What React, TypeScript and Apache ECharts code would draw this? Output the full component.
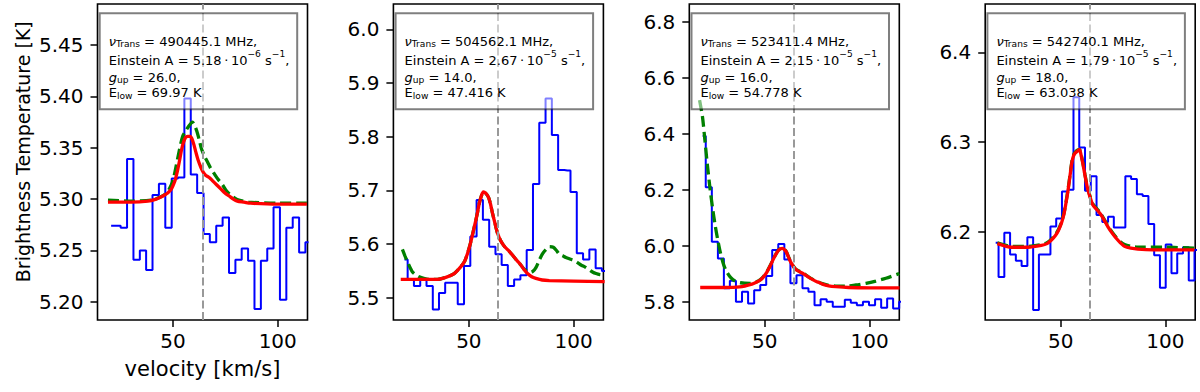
import { useEffect, useRef } from 'react';
import * as echarts from 'echarts';

// ---------------- data ----------------
const xTicks = [50, 100];
const vLine = 64;

// panel 1
const p1Vel = [20.5, 23.5, 26.6, 29.6, 32.7, 35.7, 38.7, 41.8, 44.8, 47.9, 50.9, 53.9, 57.0, 60.0, 63.1, 66.1, 69.1, 72.2, 75.2, 78.3, 81.3, 84.3, 87.4, 90.4, 93.5, 96.5, 99.5, 102.6, 105.6, 108.7, 111.7, 114.7];
const p1Obs = [5.274, 5.274, 5.272, 5.339, 5.241, 5.250, 5.231, 5.304, 5.315, 5.272, 5.320, 5.321, 5.398, 5.324, 5.306, 5.266, 5.258, 5.274, 5.282, 5.228, 5.241, 5.252, 5.240, 5.193, 5.240, 5.252, 5.292, 5.202, 5.272, 5.282, 5.248, 5.258];
const p1RedX = [19.0, 30.0, 38.0, 42.0, 44.3, 46.0, 47.5, 49.0, 50.0, 51.0, 52.2, 53.2, 54.1, 55.0, 56.0, 57.0, 58.3, 59.0, 60.0, 60.9, 62.0, 63.3, 64.5, 65.7, 67.3, 68.8, 70.8, 72.8, 74.8, 76.8, 78.8, 80.7, 84.0, 87.0, 100.0, 113.9];
const p1RedY = [5.297, 5.297, 5.298, 5.300, 5.302, 5.304, 5.306, 5.309, 5.313, 5.318, 5.328, 5.338, 5.348, 5.355, 5.360, 5.361, 5.361, 5.359, 5.353, 5.346, 5.338, 5.331, 5.326, 5.323, 5.321, 5.318, 5.314, 5.310, 5.306, 5.303, 5.300, 5.298, 5.297, 5.296, 5.295, 5.295];
const p1GreenX = [19.0, 30.0, 40.0, 44.0, 46.5, 48.3, 50.0, 51.4, 53.0, 54.6, 56.0, 57.5, 59.3, 60.3, 61.4, 62.5, 63.6, 65.0, 66.5, 68.0, 69.6, 71.6, 73.6, 75.5, 77.5, 79.5, 81.5, 86.0, 100.0, 113.9];
const p1GreenY = [5.299, 5.298, 5.299, 5.302, 5.305, 5.310, 5.318, 5.331, 5.347, 5.361, 5.366, 5.371, 5.375, 5.372, 5.366, 5.358, 5.349, 5.342, 5.336, 5.330, 5.325, 5.319, 5.314, 5.308, 5.304, 5.301, 5.299, 5.297, 5.296, 5.296];
const p1YTicks = [5.2, 5.25, 5.3, 5.35, 5.4, 5.45];

// panel 2
const p2Vel = [19.3, 22.3, 25.3, 28.3, 31.3, 34.3, 37.2, 40.2, 43.2, 46.2, 49.2, 52.2, 55.2, 58.2, 61.2, 64.2, 67.1, 70.1, 73.1, 76.1, 79.1, 82.1, 85.1, 88.1, 91.1, 94.1, 97.0, 100.0, 103.0, 106.0, 109.0, 112.0, 115.0];
const p2Obs = [5.571, 5.534, 5.522, 5.534, 5.522, 5.478, 5.509, 5.528, 5.528, 5.488, 5.559, 5.614, 5.682, 5.645, 5.595, 5.581, 5.561, 5.522, 5.534, 5.542, 5.589, 5.712, 5.826, 5.871, 5.803, 5.738, 5.737, 5.697, 5.583, 5.571, 5.590, 5.555, 5.550];
const p2RedX = [17.5, 25.0, 34.2, 39.0, 43.0, 46.2, 48.0, 49.4, 51.0, 52.6, 54.0, 55.0, 56.0, 56.9, 58.0, 59.4, 60.3, 61.3, 62.5, 63.7, 65.2, 66.9, 68.9, 70.9, 72.8, 74.8, 76.4, 78.0, 80.0, 82.0, 85.0, 88.4, 100.0, 114.8];
const p2RedY = [5.534, 5.534, 5.534, 5.538, 5.545, 5.558, 5.568, 5.583, 5.605, 5.632, 5.656, 5.676, 5.690, 5.697, 5.695, 5.687, 5.675, 5.657, 5.638, 5.620, 5.606, 5.596, 5.588, 5.579, 5.570, 5.561, 5.552, 5.545, 5.539, 5.536, 5.533, 5.532, 5.531, 5.530];
const p2GreenX = [18.3, 19.5, 20.7, 22.0, 23.1, 24.5, 26.3, 28.5, 31.1, 35.0, 39.0, 43.0, 46.2, 48.0, 49.4, 51.0, 52.6, 54.0, 55.0, 56.0, 56.9, 58.0, 59.4, 60.3, 61.3, 62.5, 63.7, 65.2, 66.9, 68.9, 70.9, 72.8, 74.8, 76.4, 77.5, 79.0, 80.5, 82.0, 83.6, 85.2, 86.8, 88.5, 90.3, 91.8, 93.2, 94.8, 96.3, 98.3, 100.4, 102.0, 103.5, 105.5, 107.5, 109.0, 110.7, 112.5, 114.8];
const p2GreenY = [5.590, 5.578, 5.567, 5.556, 5.548, 5.543, 5.539, 5.536, 5.534, 5.534, 5.538, 5.545, 5.558, 5.568, 5.583, 5.605, 5.632, 5.656, 5.676, 5.690, 5.697, 5.695, 5.687, 5.675, 5.657, 5.638, 5.620, 5.606, 5.596, 5.588, 5.579, 5.570, 5.561, 5.553, 5.550, 5.547, 5.549, 5.556, 5.570, 5.582, 5.590, 5.595, 5.594, 5.588, 5.581, 5.578, 5.575, 5.572, 5.569, 5.565, 5.561, 5.557, 5.552, 5.548, 5.545, 5.543, 5.542];
const p2YTicks = [5.5, 5.6, 5.7, 5.8, 5.9, 6.0];

// panel 3
const p3Vel = [20.4, 23.3, 26.2, 29.1, 31.9, 34.8, 37.7, 40.6, 43.5, 46.4, 49.3, 52.1, 55.0, 57.9, 60.8, 63.7, 66.6, 69.4, 72.3, 75.2, 78.1, 81.0, 83.9, 86.8, 89.6, 92.5, 95.4, 98.3, 101.2, 104.1, 107.0, 109.8, 112.7, 115.6];
const p3Obs = [6.392, 6.209, 6.014, 5.955, 5.848, 5.875, 5.800, 5.836, 5.794, 5.841, 5.860, 5.892, 5.985, 6.006, 5.951, 5.866, 5.895, 5.848, 5.836, 5.788, 5.809, 5.800, 5.782, 5.782, 5.807, 5.797, 5.788, 5.800, 5.788, 5.809, 5.779, 5.812, 5.776, 5.800];
const p3RedX = [19.2, 30.0, 38.0, 43.9, 46.0, 47.9, 49.5, 51.1, 52.7, 54.3, 55.5, 56.7, 58.3, 59.2, 60.2, 61.2, 62.3, 63.5, 64.7, 66.7, 68.7, 70.7, 72.7, 75.1, 77.5, 80.5, 83.9, 90.0, 100.0, 114.3];
const p3RedY = [5.851, 5.851, 5.853, 5.863, 5.870, 5.878, 5.890, 5.907, 5.930, 5.955, 5.972, 5.985, 5.991, 5.988, 5.979, 5.962, 5.943, 5.928, 5.916, 5.907, 5.899, 5.889, 5.880, 5.871, 5.863, 5.857, 5.854, 5.851, 5.850, 5.850];
const p3GreenX = [18.9, 20.3, 21.4, 22.6, 23.8, 25.0, 26.3, 27.6, 29.0, 30.5, 32.0, 33.8, 35.8, 38.4, 43.1, 46.0, 47.9, 49.5, 51.1, 52.7, 54.3, 55.5, 56.7, 58.3, 59.2, 60.2, 61.2, 62.3, 63.5, 64.7, 66.7, 68.7, 70.7, 72.7, 75.1, 77.5, 80.5, 83.9, 88.7, 93.5, 98.3, 103.0, 107.8, 114.2];
const p3GreenY = [6.520, 6.460, 6.380, 6.290, 6.210, 6.140, 6.075, 6.020, 5.970, 5.930, 5.905, 5.886, 5.874, 5.868, 5.866, 5.871, 5.879, 5.891, 5.908, 5.931, 5.956, 5.973, 5.986, 5.992, 5.989, 5.980, 5.963, 5.944, 5.929, 5.917, 5.908, 5.900, 5.890, 5.881, 5.872, 5.865, 5.859, 5.856, 5.856, 5.860, 5.866, 5.874, 5.884, 5.901];
const p3YTicks = [5.8, 6.0, 6.2, 6.4, 6.6, 6.8];

// panel 4
const p4Vel = [19.0, 21.75, 24.5, 27.25, 30.0, 32.75, 35.5, 38.25, 41.0, 43.75, 46.5, 49.25, 52.0, 54.75, 57.5, 60.25, 63.0, 65.75, 68.5, 71.25, 74.0, 76.75, 79.5, 82.25, 85.0, 87.75, 90.5, 93.25, 96.0, 98.75, 101.5, 104.25, 107.0, 109.75, 112.5, 115.25];
const p4Obs = [6.188, 6.150, 6.199, 6.175, 6.168, 6.162, 6.194, 6.113, 6.175, 6.175, 6.206, 6.215, 6.245, 6.247, 6.350, 6.294, 6.246, 6.262, 6.219, 6.211, 6.217, 6.205, 6.205, 6.262, 6.259, 6.242, 6.240, 6.209, 6.174, 6.138, 6.186, 6.154, 6.176, 6.183, 6.146, 6.180];
const p4RedX = [19.8, 26.5, 34.4, 40.8, 43.5, 45.6, 47.5, 49.0, 50.4, 51.6, 52.6, 53.5, 54.5, 55.4, 56.2, 57.0, 58.0, 59.0, 59.8, 60.6, 61.6, 62.7, 64.0, 65.4, 67.2, 69.0, 70.8, 72.5, 74.5, 76.5, 78.5, 80.5, 83.5, 86.8, 100.0, 113.8];
const p4RedY = [6.187, 6.183, 6.183, 6.185, 6.187, 6.191, 6.196, 6.202, 6.210, 6.220, 6.233, 6.246, 6.263, 6.278, 6.285, 6.288, 6.290, 6.292, 6.285, 6.276, 6.263, 6.250, 6.239, 6.230, 6.225, 6.220, 6.213, 6.206, 6.199, 6.193, 6.188, 6.184, 6.182, 6.181, 6.180, 6.180];
const p4GreenX = [19.8, 26.5, 34.4, 40.8, 43.5, 45.6, 47.5, 49.0, 50.4, 51.6, 52.6, 53.5, 54.5, 55.4, 56.2, 57.0, 58.0, 59.0, 59.8, 60.6, 61.6, 62.7, 64.0, 65.4, 67.2, 69.0, 70.8, 72.5, 74.5, 76.5, 78.5, 80.5, 83.5, 86.8, 100.0, 113.8];
const p4GreenY = [6.188, 6.184, 6.184, 6.186, 6.188, 6.192, 6.197, 6.203, 6.211, 6.221, 6.234, 6.247, 6.264, 6.279, 6.286, 6.289, 6.291, 6.292, 6.286, 6.277, 6.264, 6.251, 6.240, 6.231, 6.226, 6.221, 6.214, 6.207, 6.200, 6.194, 6.189, 6.186, 6.184, 6.183, 6.183, 6.182];
const p4YTicks = [6.2, 6.3, 6.4];

// line parameters shown in the boxes
const transFreq = ['490445.1', '504562.1', '523411.4', '542740.1'];
const einsteinA = ['5.18', '2.67', '2.15', '1.79'];
const einsteinExp = ['6', '5', '5', '5'];
const gUp = ['26.0', '14.0', '16.0', '18.0'];
const eLow = ['69.97', '47.416', '54.778', '63.038'];

// ---------------- layout ----------------
const FONT = 'DejaVu Sans';
const GRID_LEFT = [97.5, 393.4, 689.3, 985.2];
const GRID_TOP = 4;
const GRID_W = 210;
const GRID_H = 316;
const X_MIN = 14;
const X_MAX = 114.2;
const Y_RANGES = [
  [5.1823, 5.4899],
  [5.4585, 6.0471],
  [5.735, 6.8632],
  [6.102, 6.4538],
];
const Y_DEC = [2, 1, 1, 1];

const panels = [
  { vel: p1Vel, obs: p1Obs, rx: p1RedX, ry: p1RedY, gx: p1GreenX, gy: p1GreenY, ticks: p1YTicks },
  { vel: p2Vel, obs: p2Obs, rx: p2RedX, ry: p2RedY, gx: p2GreenX, gy: p2GreenY, ticks: p2YTicks },
  { vel: p3Vel, obs: p3Obs, rx: p3RedX, ry: p3RedY, gx: p3GreenX, gy: p3GreenY, ticks: p3YTicks },
  { vel: p4Vel, obs: p4Obs, rx: p4RedX, ry: p4RedY, gx: p4GreenX, gy: p4GreenY, ticks: p4YTicks },
];

const zip = (xs: number[], ys: number[]) => xs.map((x, i) => [x, ys[i]]);

const rich = {
  i: { fontFamily: FONT, fontSize: 13, fontStyle: 'italic', fill: '#000', lineHeight: 18 },
  sub: { fontFamily: FONT, fontSize: 9.1, fill: '#000', height: 12, lineHeight: 12, verticalAlign: 'bottom' },
  sup: { fontFamily: FONT, fontSize: 9.1, fill: '#000', height: 5.4, lineHeight: 5.4, verticalAlign: 'top' },
};

function boxElements(i: number) {
  const bx = GRID_LEFT[i] + 2.2;
  const tx = bx + 9;
  const lines = [
    `{i|ν}{sub|Trans} = ${transFreq[i]} MHz,`,
    `Einstein A = ${einsteinA[i]}\u2009·\u200910{sup|−${einsteinExp[i]}} s{sup|−1},`,
    `{i|g}{sub|up} = ${gUp[i]},`,
    `E{sub|low} = ${eLow[i]} K`,
  ];
  const centers = [41.2, 60.5, 77.2, 92.8];
  const els: any[] = [
    {
      type: 'rect',
      z: 100,
      shape: { x: bx, y: 13.3, width: 197.5, height: 96 },
      style: { fill: 'rgba(255,255,255,0.5)', stroke: 'rgba(0,0,0,0.5)', lineWidth: 2 },
    },
  ];
  lines.forEach((t, k) => {
    els.push({
      type: 'text',
      z: 101,
      x: tx,
      y: centers[k],
      style: {
        text: t,
        fontFamily: FONT,
        fontSize: 13,
        lineHeight: 18,
        fill: '#000',
        align: 'left',
        verticalAlign: 'middle',
        textAlign: 'left',
        textVerticalAlign: 'middle',
        rich,
      },
    });
  });
  return els;
}

function buildOption() {
  const grid: any[] = [];
  const xAxis: any[] = [];
  const yAxis: any[] = [];
  const series: any[] = [];
  const graphic: any[] = [];

  panels.forEach((p, i) => {
    grid.push({
      left: GRID_LEFT[i],
      top: GRID_TOP,
      width: GRID_W,
      height: GRID_H,
      show: true,
      borderColor: '#000',
      borderWidth: 1.6,
      backgroundColor: 'transparent',
      containLabel: false,
    });
    xAxis.push({
      type: 'value',
      gridIndex: i,
      min: X_MIN,
      max: X_MAX,
      axisLine: { show: false },
      splitLine: { show: false },
      axisTick: { show: true, inside: false, length: 7, lineStyle: { color: '#000', width: 1.5 }, customValues: xTicks },
      axisLabel: { customValues: xTicks, margin: 11, fontSize: 20, fontFamily: FONT, color: '#000' },
    });
    yAxis.push({
      type: 'value',
      gridIndex: i,
      min: Y_RANGES[i][0],
      max: Y_RANGES[i][1],
      axisLine: { show: false },
      splitLine: { show: false },
      axisTick: { show: true, inside: false, length: 7, lineStyle: { color: '#000', width: 1.5 }, customValues: p.ticks },
      axisLabel: {
        customValues: p.ticks,
        margin: 14,
        fontSize: 20,
        fontFamily: FONT,
        color: '#000',
        formatter: (v: number) => Number(v).toFixed(Y_DEC[i]),
      },
    });
    series.push({
      type: 'line',
      xAxisIndex: i,
      yAxisIndex: i,
      data: zip(p.vel, p.obs),
      step: 'middle',
      symbol: 'none',
      lineStyle: { color: '#0000ff', width: 2 },
      z: 2,
      markLine: {
        silent: true,
        symbol: ['none', 'none'],
        label: { show: false },
        lineStyle: { color: '#999999', width: 2, type: [8, 3.5] },
        data: [{ xAxis: vLine }],
      },
    });
    series.push({
      type: 'line',
      xAxisIndex: i,
      yAxisIndex: i,
      data: zip(p.gx, p.gy),
      smooth: 0.25,
      symbol: 'none',
      lineStyle: { color: '#008000', width: 3.3, type: [11, 5] },
      z: 3,
    });
    series.push({
      type: 'line',
      xAxisIndex: i,
      yAxisIndex: i,
      data: zip(p.rx, p.ry),
      smooth: 0.25,
      symbol: 'none',
      lineStyle: { color: '#ff0000', width: 3.3 },
      z: 4,
    });
    graphic.push(...boxElements(i));
  });

  graphic.push({
    type: 'text',
    z: 100,
    x: 22.5,
    y: 151.7,
    rotation: Math.PI / 2,
    style: {
      text: 'Brightness Temperature [K]',
      fontFamily: FONT,
      fontSize: 19,
      fill: '#000',
      align: 'center',
      verticalAlign: 'middle',
      textAlign: 'center',
      textVerticalAlign: 'middle',
    },
  });
  graphic.push({
    type: 'text',
    z: 100,
    x: 202.5,
    y: 369,
    style: {
      text: 'velocity [km/s]',
      fontFamily: FONT,
      fontSize: 21,
      fill: '#000',
      align: 'center',
      verticalAlign: 'middle',
      textAlign: 'center',
      textVerticalAlign: 'middle',
    },
  });

  return {
    animation: false,
    backgroundColor: '#ffffff',
    grid,
    xAxis,
    yAxis,
    series,
    graphic,
  };
}

export default function App() {
  const ref = useRef<HTMLDivElement>(null);
  useEffect(() => {
    document.body.style.margin = '0';
    const chart = echarts.init(ref.current as HTMLDivElement, null, { renderer: 'svg' });
    chart.setOption(buildOption() as any);
    return () => chart.dispose();
  }, []);
  return <div ref={ref} style={{ position: 'absolute', left: 0, top: 0, width: 1200, height: 392 }} />;
}
